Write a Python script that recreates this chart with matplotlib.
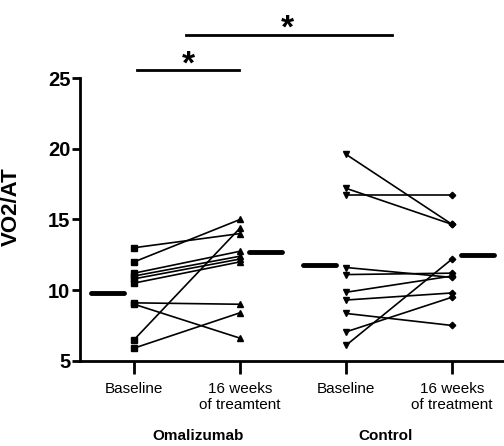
import matplotlib
matplotlib.use("Agg")
import matplotlib.pyplot as plt

plt.rcParams["font.family"] = ["Liberation Sans", "DejaVu Sans"]

# paired subject values (baseline -> 16 weeks)
oma_base = [13.0, 12.0, 11.2, 11.0, 10.8, 10.5, 9.1, 9.0, 6.5, 5.9]
oma_post = [14.0, 15.0, 12.75, 12.4, 12.2, 12.0, 9.0, 6.6, 14.4, 8.4]
ctl_base = [19.6, 17.2, 16.7, 11.6, 11.1, 9.85, 9.3, 8.35, 7.05, 6.1]
ctl_post = [14.65, 14.65, 16.7, 10.9, 11.2, 11.0, 9.8, 7.5, 9.5, 12.2]

# group means shown as horizontal bars
means = [9.8, 12.7, 11.8, 12.45]

tick_labels = ["Baseline", "16 weeks\nof treamtent", "Baseline", "16 weeks\nof treatment"]
group_labels = ["Omalizumab", "Control"]
yticks = [5, 10, 15, 20, 25]

fig = plt.figure(figsize=(5.04, 4.46), dpi=100)
ax = fig.add_axes([0.159, 0.191, 0.841, 0.634])

for b, p in zip(oma_base, oma_post):
    ax.plot([1, 2], [b, p], color="black", lw=1.2, zorder=2)
ax.plot([1] * len(oma_base), oma_base, "s", color="black", ms=5, zorder=3)
ax.plot([2] * len(oma_post), oma_post, "^", color="black", ms=5, zorder=3)

for b, p in zip(ctl_base, ctl_post):
    ax.plot([3, 4], [b, p], color="black", lw=1.2, zorder=2)
ax.plot([3] * len(ctl_base), ctl_base, "v", color="black", ms=5, zorder=3)
ax.plot([4] * len(ctl_post), ctl_post, "D", color="black", ms=3.3, zorder=3)

# mean bars, offset outside the paired points
offsets = [-0.25, 0.24, -0.25, 0.24]
for i, (m, off) in enumerate(zip(means, offsets)):
    c = i + 1 + off
    ax.plot([c - 0.155, c + 0.155], [m, m], color="black", lw=3.5,
            solid_capstyle="round", zorder=3)

# significance brackets
ax.plot([1.03, 1.99], [25.55, 25.55], color="black", lw=2, clip_on=False)
ax.text(1.51, 25.9, "*", ha="center", va="center", fontsize=24, fontweight="bold")
ax.plot([1.49, 3.43], [28.05, 28.05], color="black", lw=2, clip_on=False)
ax.text(2.45, 28.45, "*", ha="center", va="center", fontsize=24, fontweight="bold")

ax.set_xlim(0.49, 4.49)
ax.set_ylim(5, 25)
ax.set_yticks(yticks)
ax.set_yticklabels([str(v) for v in yticks], fontweight="bold", fontsize=14.5)
ax.set_xticks([1, 2, 3, 4])
ax.set_xticklabels(tick_labels, fontsize=11, linespacing=1.2)
ax.tick_params(axis="y", length=6, width=2, pad=1)
ax.tick_params(axis="x", length=9, width=2, pad=6)

for s in ["top", "right"]:
    ax.spines[s].set_visible(False)
for s in ["left", "bottom"]:
    ax.spines[s].set_linewidth(2)

ax.set_ylabel("VO2/AT", fontsize=16, fontweight="bold")
ax.yaxis.set_label_coords(-0.137, 0.544)

ax.text(1.6, -0.265, group_labels[0], transform=ax.get_xaxis_transform(),
        ha="center", va="center", fontsize=11, fontweight="bold")
ax.text(3.37, -0.265, group_labels[1], transform=ax.get_xaxis_transform(),
        ha="center", va="center", fontsize=11, fontweight="bold")

fig.savefig("out.png", dpi=100)
